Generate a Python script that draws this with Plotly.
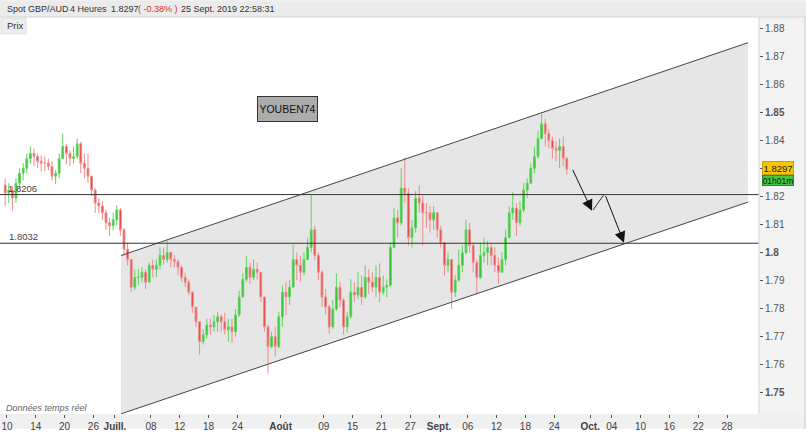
import numpy as np
import plotly.graph_objects as go

W, H = 806, 433
PL, PR, PT, PB = 1, 759, 17, 418  # plot area in pixels

# ---------------- data (12-hour candles, GBP/AUD) ----------------
first_open = 1.8240
highs = [1.8264, 1.8247, 1.8236, 1.8264, 1.8300, 1.8318, 1.8353, 1.8378, 1.8371, 1.8353,
         1.8346, 1.8342, 1.8335, 1.8325, 1.8293, 1.8353, 1.8424, 1.8388, 1.8364, 1.8378,
         1.8406, 1.8395, 1.8353, 1.8353, 1.8272, 1.8229, 1.8194, 1.8183, 1.8151, 1.8123,
         1.8141, 1.8169, 1.8158, 1.8087, 1.8034, 1.7974, 1.7939, 1.7939, 1.7946, 1.7939,
         1.7963, 1.7974, 1.7974, 1.8017, 1.8017, 1.8041, 1.7999, 1.7988, 1.7974, 1.7953,
         1.7928, 1.7903, 1.7861, 1.7804, 1.7751, 1.7726, 1.7762, 1.7762, 1.7776, 1.7786,
         1.7776, 1.7783, 1.7762, 1.7762, 1.7797, 1.7861, 1.7925, 1.7985, 1.7963, 1.7974,
         1.7963, 1.7928, 1.7840, 1.7740, 1.7716, 1.7733, 1.7786, 1.7882, 1.7893, 1.7900,
         1.8027, 1.7999, 1.7988, 1.7999, 1.8052, 1.8204, 1.8095, 1.7999, 1.7935, 1.7868,
         1.7811, 1.7829, 1.7925, 1.7893, 1.7836, 1.7786, 1.7903, 1.7893, 1.7928, 1.7917,
         1.7953, 1.7939, 1.7928, 1.7953, 1.7960, 1.7917, 1.7903, 1.8034, 1.8158, 1.8151,
         1.8300, 1.8339, 1.8229, 1.8116, 1.8218, 1.8240, 1.8201, 1.8176, 1.8165, 1.8165,
         1.8141, 1.8095, 1.8034, 1.7999, 1.7974, 1.7917, 1.8010, 1.8024, 1.8116, 1.8105,
         1.8034, 1.7974, 1.8034, 1.8052, 1.8041, 1.8034, 1.8017, 1.7981, 1.7999, 1.8080,
         1.8165, 1.8215, 1.8176, 1.8183, 1.8247, 1.8264, 1.8318, 1.8378, 1.8434, 1.8495,
         1.8477, 1.8441, 1.8413, 1.8395, 1.8406, 1.8413, 1.8342]
lows = [1.8165, 1.8176, 1.8148, 1.8176, 1.8229, 1.8257, 1.8282, 1.8318, 1.8307, 1.8300,
        1.8289, 1.8289, 1.8293, 1.8257, 1.8243, 1.8264, 1.8335, 1.8314, 1.8307, 1.8318,
        1.8335, 1.8282, 1.8264, 1.8247, 1.8201, 1.8141, 1.8141, 1.8116, 1.8080, 1.8059,
        1.8077, 1.8095, 1.8059, 1.7988, 1.7953, 1.7857, 1.7864, 1.7882, 1.7893, 1.7868,
        1.7893, 1.7910, 1.7910, 1.7939, 1.7956, 1.7963, 1.7946, 1.7946, 1.7917, 1.7893,
        1.7875, 1.7847, 1.7783, 1.7733, 1.7634, 1.7670, 1.7691, 1.7705, 1.7716, 1.7716,
        1.7716, 1.7705, 1.7680, 1.7677, 1.7698, 1.7769, 1.7840, 1.7893, 1.7886, 1.7900,
        1.7903, 1.7822, 1.7716, 1.7567, 1.7656, 1.7627, 1.7656, 1.7733, 1.7776, 1.7811,
        1.7875, 1.7900, 1.7893, 1.7917, 1.7974, 1.7999, 1.7974, 1.7900, 1.7804, 1.7776,
        1.7709, 1.7726, 1.7790, 1.7804, 1.7705, 1.7712, 1.7762, 1.7822, 1.7833, 1.7811,
        1.7833, 1.7850, 1.7857, 1.7840, 1.7822, 1.7847, 1.7840, 1.7875, 1.8017, 1.8052,
        1.8095, 1.8176, 1.8024, 1.8017, 1.8070, 1.8141, 1.8024, 1.8087, 1.8070, 1.8080,
        1.8052, 1.8017, 1.7917, 1.7928, 1.7797, 1.7840, 1.7893, 1.7928, 1.7992, 1.7999,
        1.7928, 1.7850, 1.7903, 1.7963, 1.7953, 1.7953, 1.7928, 1.7886, 1.7928, 1.7953,
        1.8052, 1.8116, 1.8059, 1.8095, 1.8144, 1.8194, 1.8247, 1.8282, 1.8335, 1.8406,
        1.8378, 1.8371, 1.8335, 1.8325, 1.8300, 1.8307, 1.8279]
closes = [1.8211, 1.8222, 1.8194, 1.8247, 1.8282, 1.8300, 1.8335, 1.8353, 1.8342, 1.8325,
          1.8318, 1.8318, 1.8307, 1.8272, 1.8282, 1.8335, 1.8378, 1.8353, 1.8335, 1.8342,
          1.8388, 1.8318, 1.8300, 1.8272, 1.8222, 1.8176, 1.8165, 1.8141, 1.8105, 1.8095,
          1.8116, 1.8151, 1.8080, 1.8010, 1.7974, 1.7875, 1.7910, 1.7910, 1.7928, 1.7893,
          1.7953, 1.7939, 1.7953, 1.7988, 1.7974, 1.7999, 1.7974, 1.7967, 1.7946, 1.7910,
          1.7893, 1.7857, 1.7804, 1.7751, 1.7680, 1.7705, 1.7740, 1.7733, 1.7751, 1.7769,
          1.7751, 1.7723, 1.7733, 1.7716, 1.7776, 1.7840, 1.7903, 1.7946, 1.7910, 1.7939,
          1.7928, 1.7840, 1.7733, 1.7663, 1.7698, 1.7663, 1.7769, 1.7857, 1.7840, 1.7875,
          1.7974, 1.7953, 1.7928, 1.7974, 1.8017, 1.8080, 1.7988, 1.7928, 1.7840, 1.7804,
          1.7733, 1.7797, 1.7875, 1.7829, 1.7733, 1.7769, 1.7857, 1.7847, 1.7875, 1.7840,
          1.7910, 1.7893, 1.7875, 1.7910, 1.7857, 1.7875, 1.7882, 1.8017, 1.8123, 1.8105,
          1.8229, 1.8211, 1.8052, 1.8087, 1.8194, 1.8176, 1.8141, 1.8141, 1.8116, 1.8141,
          1.8080, 1.8034, 1.7953, 1.7974, 1.7857, 1.7900, 1.7953, 1.7999, 1.8080, 1.8024,
          1.7963, 1.7910, 1.7988, 1.7999, 1.8017, 1.7988, 1.7953, 1.7928, 1.7974, 1.8052,
          1.8141, 1.8158, 1.8105, 1.8151, 1.8222, 1.8247, 1.8300, 1.8342, 1.8406, 1.8459,
          1.8424, 1.8399, 1.8371, 1.8364, 1.8378, 1.8335, 1.8297]
opens = [first_open] + closes[:-1]

# trading-day calendar (x axis counts business days from 10 June 2019)
origin = "2019-06-10"
tick_dates = ["2019-06-10", "2019-06-14", "2019-06-20", "2019-06-26", "2019-07-01",
              "2019-07-08", "2019-07-12", "2019-07-18", "2019-07-24", "2019-08-01",
              "2019-08-09", "2019-08-15", "2019-08-21", "2019-08-27", "2019-09-02",
              "2019-09-06", "2019-09-12", "2019-09-18", "2019-09-24", "2019-10-01",
              "2019-10-04", "2019-10-10", "2019-10-16", "2019-10-22", "2019-10-28"]
tick_labels = ["10", "14", "20", "26", "<b>Juill.</b>", "08", "12", "18", "24", "<b>Août</b>",
               "09", "15", "21", "27", "<b>Sept.</b>", "06", "12", "18", "24", "<b>Oct.</b>",
               "04", "10", "16", "22", "28"]
tick_pos = np.busday_count(origin, tick_dates).astype(float)

# 1.83 is hidden behind the last-price tag in the reference
y_tick_vals = [1.75, 1.76, 1.77, 1.78, 1.79, 1.80, 1.81, 1.82, 1.83, 1.84, 1.85, 1.86, 1.87, 1.88]
y_tick_text = ["<b>1.75</b>", "1.76", "1.77", "1.78", "1.79", "<b>1.8</b>", "1.81", "1.82",
               "", "1.84", "<b>1.85</b>", "1.86", "1.87", "1.88"]

# drawn objects (trading-day index, price)
channel_x = [15.83, 102.9]
channel_upper = [1.7988, 1.8749]
channel_lower = [1.7422, 1.8179]
levels = [1.8206, 1.8032]
level_labels = ["1.8206", "1.8032"]
arrow1 = [(78.47, 1.8300), (81.25, 1.8148)]
connector = [(81.40, 1.8151), (82.90, 1.8206)]
arrow2 = [(83.06, 1.8206), (85.69, 1.8034)]
last_price = "1.8297"
countdown = "01h01m"

# ---------------- figure ----------------
n = len(closes)
x_c = -0.25 + 0.5 * np.arange(n)   # 12-hour sessions

FONT = "Liberation Sans, Arial, sans-serif"

def pxx(px):
    return (px - PL) / (PR - PL)

def pyy(py):
    return (PB - py) / (PB - PT)

fig = go.Figure()
fig.add_trace(go.Candlestick(
    x=x_c, open=opens, high=highs, low=lows, close=closes,
    increasing=dict(line=dict(color="#5fd35f", width=1), fillcolor="#2fc22f"),
    decreasing=dict(line=dict(color="#f08a8a", width=1), fillcolor="#e63b3b"),
    whiskerwidth=0, showlegend=False, hoverinfo="skip",
))

shapes = []
path = (f"M{channel_x[0]},{channel_upper[0]} L{channel_x[1]},{channel_upper[1]} "
        f"L{channel_x[1]},{channel_lower[1]} L{channel_x[0]},{channel_lower[0]} Z")
shapes.append(dict(type="path", path=path, xref="x", yref="y", fillcolor="#e6e6e6",
                   line=dict(width=0), layer="below"))
shapes.append(dict(type="line", xref="x", yref="y", x0=channel_x[0], y0=channel_upper[0],
                   x1=channel_x[1], y1=channel_upper[1], line=dict(color="#444", width=1)))
shapes.append(dict(type="line", xref="x", yref="y", x0=channel_x[0], y0=channel_lower[0],
                   x1=channel_x[1], y1=channel_lower[1], line=dict(color="#444", width=1)))
for lv in levels:
    shapes.append(dict(type="line", xref="paper", yref="y", x0=pxx(0), x1=1, y0=lv, y1=lv,
                       line=dict(color="#333", width=1)))
shapes.append(dict(type="line", xref="x", yref="y", x0=connector[0][0], y0=connector[0][1],
                   x1=connector[1][0], y1=connector[1][1], line=dict(color="#333", width=1)))
shapes.append(dict(type="rect", xref="paper", yref="paper", x0=pxx(0), x1=pxx(806),
                   y0=pyy(17), y1=pyy(0), fillcolor="#ebebeb", line=dict(width=0), layer="below"))
shapes.append(dict(type="line", xref="paper", yref="paper", x0=pxx(0), x1=pxx(806),
                   y0=pyy(17), y1=pyy(17), line=dict(color="#d6d6d6", width=1)))
shapes.append(dict(type="rect", xref="paper", yref="paper", x0=pxx(759), x1=pxx(805),
                   y0=pyy(433), y1=pyy(17), fillcolor="#f3f3f3", line=dict(width=0), layer="below"))
shapes.append(dict(type="rect", xref="paper", yref="paper", x0=pxx(0), x1=pxx(805),
                   y0=pyy(433), y1=pyy(418), fillcolor="#f0f0f0", line=dict(width=0), layer="below"))
shapes.append(dict(type="line", xref="paper", yref="paper", x0=pxx(759), x1=pxx(759),
                   y0=pyy(418), y1=pyy(17), line=dict(color="#d4d4d4", width=1)))
shapes.append(dict(type="line", xref="paper", yref="paper", x0=pxx(805), x1=pxx(805),
                   y0=pyy(433), y1=pyy(17), line=dict(color="#c8c8c8", width=1)))
shapes.append(dict(type="rect", xref="paper", yref="paper", x0=pxx(1), x1=pxx(26),
                   y0=pyy(34), y1=pyy(18), fillcolor="#ededed", line=dict(color="#dcdcdc", width=1)))

ann = []
def text(px, py, s, size=11, color="#333", anchor="left", **kw):
    ann.append(dict(xref="paper", yref="paper", x=pxx(px), y=pyy(py), text=s,
                    showarrow=False, xanchor=anchor, yanchor="middle",
                    font=dict(family=FONT, size=size, color=color), **kw))

text(5, 9, "Spot GBP/AUD", size=9)
text(68, 9, "4 Heures", size=9)
text(109, 9, "1.8297", size=9)
text(136, 9, "( -0.38% )", size=9, color="#d8302a")
text(179, 9, "25 Sept. 2019 22:58:31", size=9)
text(5, 26, "Prix", size=9.5)
text(6, 190, level_labels[0], size=9.5, color="#444")
text(7, 239, level_labels[1], size=9.5, color="#444")
text(4, 412, "<i>Données temps réel</i>", size=9, color="#666")

ann.append(dict(xref="paper", yref="paper", x=pxx(287.5), y=pyy(110), text="YOUBEN74",
                showarrow=False, xanchor="center", yanchor="middle",
                font=dict(family=FONT, size=10.5, color="#111"),
                bgcolor="#acacac", bordercolor="#333", borderwidth=1, borderpad=0,
                width=59, height=24))
ann.append(dict(xref="paper", yref="paper", x=pxx(761.5), y=pyy(170), text=last_price,
                showarrow=False, xanchor="left", yanchor="middle",
                font=dict(family=FONT, size=9.5, color="#222"),
                bgcolor="#f7c600", bordercolor="#c9a200", borderwidth=1, borderpad=0,
                width=30, height=12))
ann.append(dict(xref="paper", yref="paper", x=pxx(761.5), y=pyy(182), text=countdown,
                showarrow=False, xanchor="left", yanchor="middle",
                font=dict(family=FONT, size=8.5, color="#111"),
                bgcolor="#45c745", bordercolor="#2a8a2a", borderwidth=1, borderpad=0,
                width=30, height=9))
for (tail, tip) in (arrow1, arrow2):
    ann.append(dict(xref="x", yref="y", axref="x", ayref="y", x=tip[0], y=tip[1],
                    ax=tail[0], ay=tail[1], text="", showarrow=True, arrowhead=2,
                    arrowsize=2.2, arrowwidth=1, arrowcolor="#111", standoff=0))

fig.update_layout(
    width=W, height=H,
    margin=dict(l=PL, r=W - PR, t=PT, b=H - PB, pad=0),
    paper_bgcolor="white", plot_bgcolor="white",
    shapes=shapes, annotations=ann,
    font=dict(family=FONT),
    xaxis=dict(range=[-0.83, 104.44], tickmode="array", tickvals=tick_pos, ticktext=tick_labels,
               ticks="outside", ticklen=3, tickcolor="#555", showgrid=False, zeroline=False,
               showline=False, tickfont=dict(family=FONT, size=10, color="#444"),
               rangeslider=dict(visible=False), fixedrange=True),
    yaxis=dict(range=[1.74215, 1.8841], side="right", tickmode="array", tickvals=y_tick_vals,
               ticktext=y_tick_text, ticks="outside", ticklen=3, tickcolor="#555",
               showgrid=False, zeroline=False, showline=False,
               tickfont=dict(family=FONT, size=10, color="#555"), fixedrange=True),
)

fig.write_html("out.html", config={"displayModeBar": False},
               post_script="document.body.style.margin='0';document.body.style.overflow='hidden';")
